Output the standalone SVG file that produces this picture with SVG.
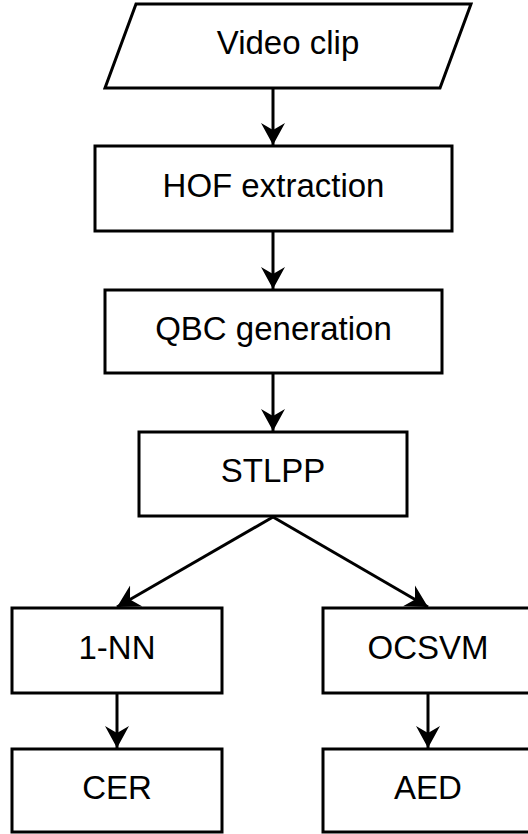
<svg xmlns="http://www.w3.org/2000/svg" width="528" height="834" viewBox="0 0 528 834">
  <style>
    .shape { fill: #ffffff; stroke: #000000; stroke-width: 3; }
    .label { font-family: "Liberation Sans", Arial, Helvetica, sans-serif; font-size: 33px; fill: #000000; text-anchor: middle; }
    .edge { fill: none; stroke: #000000; stroke-width: 3; marker-end: url(#arrow); }
  </style>
  <defs>
    <marker id="arrow" markerUnits="userSpaceOnUse" markerWidth="24" markerHeight="26" viewBox="0 -13 24 26" refX="22" refY="0" orient="auto">
      <path d="M22,0 L0,-12 L7,0 L0,12 Z" fill="#000000"/>
    </marker>
  </defs>
  <rect width="528" height="834" fill="#ffffff"/>

  <g id="connectors">
    <line class="edge" x1="273" y1="89" x2="273" y2="145"/>
    <line class="edge" x1="273" y1="232" x2="273" y2="289"/>
    <line class="edge" x1="273" y1="374" x2="273" y2="431"/>
    <line class="edge" x1="273" y1="517" x2="117" y2="607"/>
    <line class="edge" x1="273" y1="517" x2="428" y2="607"/>
    <line class="edge" x1="117" y1="693" x2="117" y2="748"/>
    <line class="edge" x1="428" y1="693" x2="428" y2="748"/>
  </g>

  <g id="video-clip">
    <polygon class="shape" points="136,4 471,4 440,88 105,88"/>
    <text class="label" x="288" y="54">Video clip</text>
  </g>
  <g id="hof-extraction">
    <rect class="shape" x="95" y="146" width="357" height="85"/>
    <text class="label" x="273.5" y="196.5">HOF extraction</text>
  </g>
  <g id="qbc-generation">
    <rect class="shape" x="105" y="290" width="337" height="83"/>
    <text class="label" x="273.5" y="339.5">QBC generation</text>
  </g>
  <g id="stlpp">
    <rect class="shape" x="139" y="432" width="268" height="84"/>
    <text class="label" x="273" y="482">STLPP</text>
  </g>
  <g id="one-nn">
    <rect class="shape" x="12" y="608" width="210" height="85"/>
    <text class="label" x="117" y="658.5">1-NN</text>
  </g>
  <g id="ocsvm">
    <rect class="shape" x="323" y="608" width="210" height="85"/>
    <text class="label" x="428" y="658.5">OCSVM</text>
  </g>
  <g id="cer">
    <rect class="shape" x="12" y="749" width="210" height="83"/>
    <text class="label" x="117" y="799">CER</text>
  </g>
  <g id="aed">
    <rect class="shape" x="323" y="749" width="210" height="83"/>
    <text class="label" x="428" y="799">AED</text>
  </g>
</svg>
